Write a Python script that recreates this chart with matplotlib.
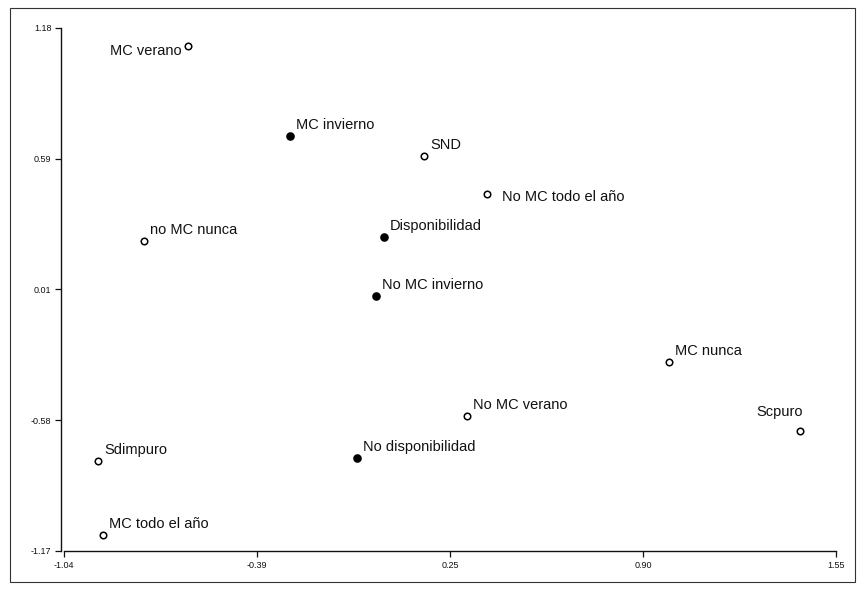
import numpy as np
import matplotlib
matplotlib.use("Agg")
import matplotlib.pyplot as plt
from matplotlib.patches import Rectangle

# Category coordinates on the two correspondence dimensions
labels = ["MC verano", "MC invierno", "SND", "No MC todo el año", "Disponibilidad",
          "no MC nunca", "No MC invierno", "MC nunca", "Scpuro", "No MC verano",
          "No disponibilidad", "Sdimpuro", "MC todo el año"]
dim1 = [-0.624, -0.282, 0.168, 0.379, 0.033, -0.772, 0.007, 0.990, 1.429, 0.312,
        -0.057, -0.926, -0.909]
dim2 = [1.099, 0.695, 0.605, 0.434, 0.241, 0.223, -0.024, -0.320, -0.630, -0.563,
        -0.752, -0.765, -1.098]
# Active (filled) vs supplementary (open) categories
filled = [False, True, False, False, True, False, True, False, False, False,
          True, False, False]

x_ticks = [-1.04, -0.3925, 0.255, 0.9025, 1.55]
x_tick_labels = ["-1.04", "-0.39", "0.25", "0.90", "1.55"]
y_ticks = [-1.17, -0.5825, 0.005, 0.5925, 1.18]
y_tick_labels = ["-1.17", "-0.58", "0.01", "0.59", "1.18"]

plt.rcParams['font.family'] = ['Liberation Sans', 'DejaVu Sans']

W, H = 857, 589
fig = plt.figure(figsize=(W / 100, H / 100), dpi=100)
ax = fig.add_axes([64 / W, 1 - 551 / H, (836 - 64) / W, (551 - 28) / H])

ax.set_xlim(x_ticks[0], x_ticks[-1])
ax.set_ylim(y_ticks[0], y_ticks[-1])

x = np.array(dim1)
y = np.array(dim2)
f = np.array(filled)
ax.scatter(x[~f], y[~f], s=22, facecolor="white", edgecolor="black",
           linewidth=1.1, zorder=3, clip_on=False)
ax.scatter(x[f], y[f], s=26, facecolor="black", edgecolor="black",
           linewidth=1.1, zorder=3, clip_on=False)

# label placement (pixel offsets, alignment)
place = {
    "MC verano": ((-6, -5), "right", "center"),
    "No MC todo el año": ((15, -3), "left", "center"),
    "Scpuro": ((3, 12), "right", "bottom"),
}
for lab, xi, yi in zip(labels, dim1, dim2):
    off, ha, va = place.get(lab, ((6, 4), "left", "bottom"))
    ax.annotate(lab, (xi, yi), xytext=off, textcoords="offset pixels",
                ha=ha, va=va, fontsize=10.5, color="#111111")

ax.set_xticks(x_ticks)
ax.set_xticklabels(x_tick_labels)
ax.set_yticks(y_ticks)
ax.set_yticklabels(y_tick_labels)
ax.tick_params(axis="both", direction="out", length=4, width=0.9,
               labelsize=6.5, colors="#111111", pad=3)

for s in ["top", "right"]:
    ax.spines[s].set_visible(False)
for s in ["left", "bottom"]:
    ax.spines[s].set_linewidth(1.0)
    ax.spines[s].set_color("#111111")
ax.spines["left"].set_position(("outward", 2))
ax.patch.set_alpha(0)

# outer frame around the whole graphic
fig.patches.append(Rectangle((10 / W, 1 - 582 / H), (855 - 10) / W, (582 - 8) / H,
                             transform=fig.transFigure, fill=False,
                             edgecolor="#333333", linewidth=0.8))

fig.savefig("out.png", dpi=100, facecolor="white")
